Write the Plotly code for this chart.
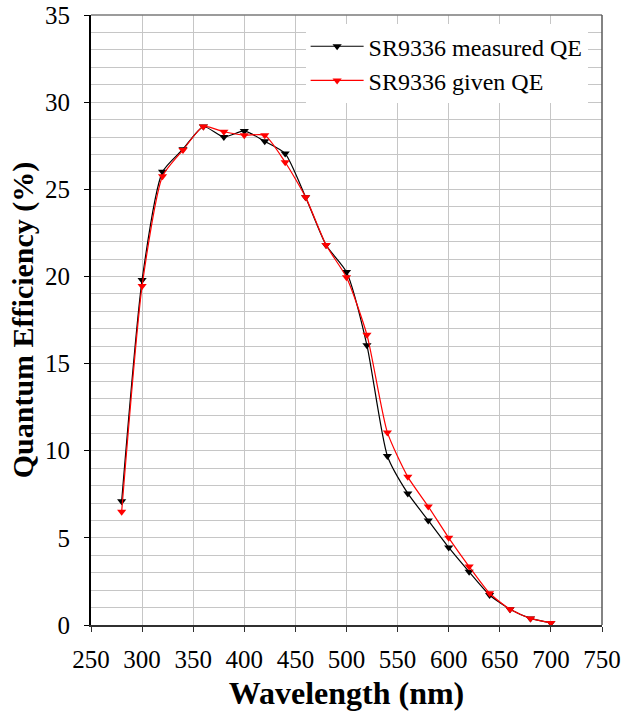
import plotly.graph_objects as go

wavelength = [280, 300, 320, 340, 360, 380, 400, 420, 440, 460, 480, 500,
              520, 540, 560, 580, 600, 620, 640, 660, 680, 700]
measured_qe = [7.1, 19.8, 26.0, 27.3, 28.6, 28.0, 28.35, 27.75, 27.05, 24.55, 21.8, 20.25,
               16.05, 9.7, 7.55, 6.0, 4.45, 3.05, 1.72, 0.9, 0.38, 0.12]
given_qe = [6.5, 19.45, 25.75, 27.25, 28.6, 28.3, 28.1, 28.1, 26.55, 24.55, 21.8, 19.95,
            16.65, 11.05, 8.5, 6.8, 5.0, 3.35, 1.82, 0.9, 0.38, 0.12]

x_ticks = [250, 300, 350, 400, 450, 500, 550, 600, 650, 700, 750]
y_ticks = [0, 5, 10, 15, 20, 25, 30, 35]

FONT = "'Liberation Serif', 'Times New Roman', Tinos, 'DejaVu Serif', serif"
GRID = "#c6c6c6"

fig = go.Figure()
fig.add_trace(go.Scatter(
    x=wavelength, y=measured_qe, name="SR9336 measured QE",
    mode="lines+markers",
    line=dict(color="black", width=1.2, shape="spline", smoothing=0.6),
    marker=dict(symbol="triangle-down", size=8, color="black"),
))
fig.add_trace(go.Scatter(
    x=wavelength, y=given_qe, name="SR9336 given QE",
    mode="lines+markers",
    line=dict(color="#ff0000", width=1.2, shape="spline", smoothing=0.6),
    marker=dict(symbol="triangle-down", size=8, color="#ff0000"),
))

fig.update_layout(
    width=627, height=719,
    margin=dict(l=90.5, r=25.3, t=15, b=94, autoexpand=False),
    paper_bgcolor="white", plot_bgcolor="white",
    font=dict(family=FONT, color="black"),
    legend=dict(
        x=0.42, y=0.985, xanchor="left", yanchor="top",
        bgcolor="white", borderwidth=0,
        font=dict(family=FONT, size=24, color="black"),
        itemwidth=53, tracegroupgap=0,
    ),
    showlegend=True,
    xaxis=dict(
        range=[250, 750], tickmode="array", tickvals=x_ticks,
        ticktext=[str(v) for v in x_ticks],
        showgrid=True, gridcolor=GRID, gridwidth=1.3,
        zeroline=False, showline=True, linecolor="#303030", linewidth=1.5,
        ticks="outside", ticklen=5, tickcolor="#303030", tickwidth=1,
        tickfont=dict(family=FONT, size=25),
        ticklabelstandoff=6,
        title=dict(text="<b>Wavelength (nm)</b>", font=dict(family=FONT, size=32), standoff=10),
    ),
    yaxis=dict(
        range=[0, 35], tickmode="array", tickvals=y_ticks,
        ticktext=[str(v) for v in y_ticks],
        showgrid=True, gridcolor=GRID, gridwidth=1.3,
        minor=dict(dtick=1, showgrid=True, gridcolor=GRID, gridwidth=1.3),
        zeroline=False, showline=True, linecolor="black", linewidth=1.8,
        ticks="outside", ticklen=5, tickcolor="black", tickwidth=1,
        tickfont=dict(family=FONT, size=25),
        ticklabelstandoff=9,
        title=dict(text="<b>Quantum Efficiency (%)</b>", font=dict(family=FONT, size=30), standoff=3),
    ),
    shapes=[
        dict(type="line", xref="paper", yref="paper", x0=0, x1=1, y0=1, y1=1,
             line=dict(color="#7a7a7a", width=1.5)),
        dict(type="line", xref="paper", yref="paper", x0=1, x1=1, y0=0, y1=1,
             line=dict(color="#5a5a5a", width=1.5)),
    ],
)

# remove the default 8px page margin so the figure sits at the window's top-left
fig.write_html("out.html", config={"displayModeBar": False},
               post_script="document.body.style.margin='0';")
